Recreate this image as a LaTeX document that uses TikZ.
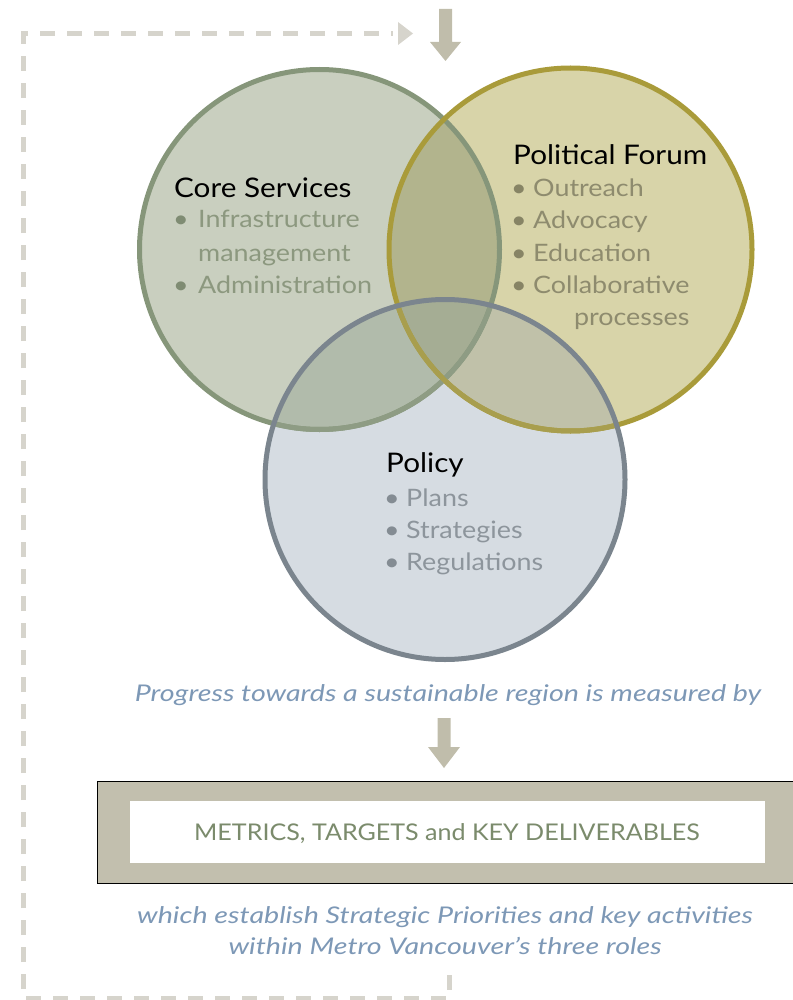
\documentclass[tikz,border=0pt]{standalone}
\usepackage{fontspec}
\setmainfont{Lato}
\newfontfamily\ttlfont{Lato}[FakeStretch=1.1]
\newfontfamily\itmfont{Lato}[FakeStretch=1.12]
\newfontfamily\italfont{Lato}[FakeStretch=1.245]
\newfontfamily\metfont{Lato}[FakeStretch=1.09]
\definecolor{gfill}{HTML}{C9CFBF}
\definecolor{yfill}{HTML}{D8D4A9}
\definecolor{bfill}{HTML}{D6DCE2}
\definecolor{gyfill}{HTML}{B2B48D}
\definecolor{gbfill}{HTML}{B1BBAB}
\definecolor{ybfill}{HTML}{C0C1A9}
\definecolor{gybfill}{HTML}{A5AD94}
\definecolor{gstroke}{HTML}{86967A}
\definecolor{ystroke}{HTML}{A99B3A}
\definecolor{bstroke}{HTML}{7B858E}
\definecolor{gmuted}{HTML}{8E9C84}
\definecolor{ymuted}{HTML}{A89E4E}
\definecolor{gtext}{HTML}{8C987F}
\definecolor{ytext}{HTML}{8E8B6E}
\definecolor{btext}{HTML}{8D959C}
\definecolor{gdot}{HTML}{7F8C73}
\definecolor{ydot}{HTML}{878465}
\definecolor{bdot}{HTML}{848C93}
\definecolor{arrowtan}{HTML}{C0BDAB}
\definecolor{dashgray}{HTML}{D6D4CC}
\definecolor{boxtan}{HTML}{C2BFAE}
\definecolor{metricgreen}{HTML}{7B8B6C}
\definecolor{italblue}{HTML}{7D98B6}
\tikzset{
  ring/.style={circle, minimum size=360pt, inner sep=0pt, line width=5pt},
  title/.style={anchor=base west, inner sep=0pt, font=\ttlfont\fontsize{27}{30}\selectfont, text=black},
  item/.style={anchor=base west, inner sep=0pt, font=\itmfont\fontsize{24}{28}\selectfont},
  bul/.style={anchor=base, inner sep=0pt, font=\itmfont\fontsize{24}{28}\selectfont},
  blockarrow/.style={fill=arrowtan},
  dashline/.style={draw=dashgray, line width=5.5pt, dash pattern=on 15pt off 12pt},
  ital/.style={inner sep=0pt, anchor=base, text=italblue, font=\italfont\itshape\fontsize{23}{26}\selectfont},
}
\begin{document}
\begin{tikzpicture}[x=1pt,y=-1pt]
\useasboundingbox (0,0) rectangle (792,1000);
% circle nodes
\node[ring] (core) at (319.5,249.5) {};
\node[ring, minimum size=363pt] (forum) at (570.5,249.5) {};
\node[ring] (policy) at (445,479.5) {};
% fills
\fill[gfill] (core.center) circle (180);
\fill[yfill] (forum.center) circle (181.5);
\fill[bfill] (policy.center) circle (180);
\begin{scope}\clip (core.center) circle (180); \fill[gyfill] (forum.center) circle (181.5); \end{scope}
\begin{scope}\clip (core.center) circle (180); \fill[gbfill] (policy.center) circle (180); \end{scope}
\begin{scope}\clip (forum.center) circle (181.5); \fill[ybfill] (policy.center) circle (180); \end{scope}
\begin{scope}\clip (core.center) circle (180); \clip (forum.center) circle (181.5); \fill[gybfill] (policy.center) circle (180); \end{scope}
% strokes
\draw[gstroke, line width=5pt] (core.center) circle (180);
\draw[ystroke, line width=5pt] (forum.center) circle (181.5);
\begin{scope}\clip (policy.center) circle (180);
\draw[gmuted, line width=5pt] (core.center) circle (180);
\draw[ymuted, line width=5pt] (forum.center) circle (181.5);
\end{scope}
\draw[bstroke, line width=5pt] (policy.center) circle (180);

% Core Services text
\node[title] (ct) at (174,198) {Core Services};
\node[bul, text=gdot] (cb1) at (181,228) {•};
\node[item, text=gtext] (c1) at (198,228) {Infrastructure};
\node[item, text=gtext] (c2) at (198,261) {management};
\node[bul, text=gdot] (cb3) at (181,293) {•};
\node[item, text=gtext] (c3) at (198,293) {Administration};

% Political Forum text
\node[title] (ft) at (513,165) {Political Forum};
\node[bul, text=ydot] (fb1) at (519,197) {•};
\node[item, text=ytext] (f1) at (533,197) {Outreach};
\node[bul, text=ydot] (fb2) at (519,229) {•};
\node[item, text=ytext] (f2) at (533,229) {Advocacy};
\node[bul, text=ydot] (fb3) at (519,261) {•};
\node[item, text=ytext] (f3) at (533,261) {Education};
\node[bul, text=ydot] (fb4) at (519,293) {•};
\node[item, text=ytext] (f4) at (533,293) {Collaborative};
\node[item, text=ytext, anchor=base east] (f5) at (f4.base east |- 0,325) {processes};

% Policy text
\node[title] (pt) at (386,472) {Policy};
\node[bul, text=bdot] (pb1) at (392,506) {•};
\node[item, text=btext] (p1) at (406,506) {Plans};
\node[bul, text=bdot] (pb2) at (392,538) {•};
\node[item, text=btext] (p2) at (406,538) {Strategies};
\node[bul, text=bdot] (pb3) at (392,570) {•};
\node[item, text=btext] (p3) at (406,570) {Regulations};

% top arrow
\fill[blockarrow] (439,9) -- (452,9) -- (452,42) -- (461,42) -- (445.5,61) -- (430,42) -- (439,42) -- cycle;
\coordinate (toparrow) at (445.5,9);

% measured text
\node[ital] (measured) at (448,701) {Progress towards a sustainable region is measured by};

% middle arrow
\fill[blockarrow] (437.5,718) -- (450.5,718) -- (450.5,747) -- (460,747) -- (444,768) -- (428,747) -- (437.5,747) -- cycle;

% metrics box
\fill[boxtan] (97,781) rectangle (793,883);
\draw[black, line width=0.9pt] (793,781) -- (97,781) -- (97,883) -- (793,883);
\fill[white] (130,801) rectangle (765,863);
\node[inner sep=0pt, anchor=base, text=metricgreen, font=\metfont\fontsize{23}{25}\selectfont] (metrics) at (447,840.5) {METRICS, TARGETS and KEY DELIVERABLES};

% bottom italic text
\node[ital] (est1) at (445,923) {which establish Strategic Priorities and key activities};
\node[ital] (est2) at (445,954) {within Metro Vancouver’s three roles};

% dashed loop
\coordinate (loopstart) at (449.5,975);
\coordinate (loopend) at (393,33.5);
\draw[dashline] (loopstart) -- (449.5,998.5) -- (23.5,998.5) -- (23.5,33.5) -- (loopend);
\fill[dashgray] (398,22) -- (413,33.5) -- (398,45) -- cycle;
\end{tikzpicture}
\end{document}
